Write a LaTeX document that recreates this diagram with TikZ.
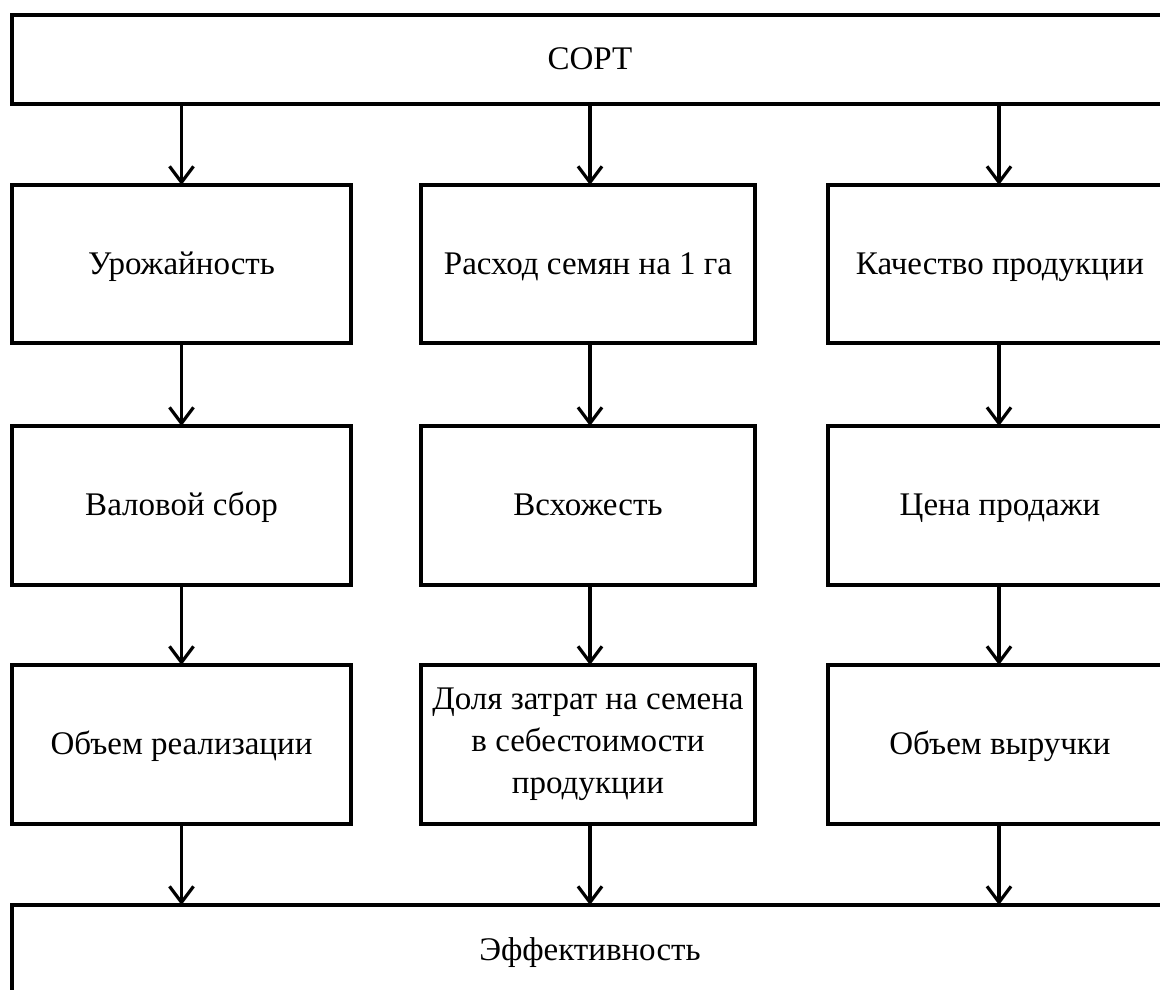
\documentclass[tikz,border=0pt]{standalone}
\usepackage{fontspec}
\setmainfont{Liberation Serif}
\usetikzlibrary{arrows.meta}
\begin{document}
\begin{tikzpicture}[x=1pt,y=-1pt,
  box/.style={draw=black, line width=4pt, rectangle, inner sep=0pt, outer sep=0pt,
    align=center, font=\fontsize{33}{42}\selectfont},
  one/.style={box, text height=25pt, text depth=5pt},
  arr/.style={line width=3.2pt, -{Straight Barb[length=16pt,width=24pt,line width=3.2pt]}}]
\useasboundingbox (0,0) rectangle (1160,990);
\clip (0,0) rectangle (1160,990);
% top
\node[one, minimum width=1156pt, minimum height=89pt] (sort) at (590,59.5) {СОРТ};
% row 2
\node[one, minimum width=339pt, minimum height=158pt] (urozh) at (181.5,264) {Урожайность};
\node[one, minimum width=334pt, minimum height=158pt] (rashod) at (588,264) {Расход семян на 1 га};
\node[one, minimum width=344pt, minimum height=158pt] (kach) at (1000,264) {Качество продукции};
% row 3
\node[one, minimum width=339pt, minimum height=159pt] (val) at (181.5,505.5) {Валовой сбор};
\node[one, minimum width=334pt, minimum height=159pt] (vsh) at (588,505.5) {Всхожесть};
\node[one, minimum width=344pt, minimum height=159pt] (cena) at (1000,505.5) {Цена продажи};
% row 4
\node[one, minimum width=339pt, minimum height=159pt] (obr) at (181.5,744.5) {Объем реализации};
\node[box, minimum width=334pt, minimum height=159pt] (dolya) at (588,744.5) {Доля затрат на семена\\в себестоимости\\продукции};
\node[one, minimum width=344pt, minimum height=159pt] (obv) at (1000,744.5) {Объем выручки};
% bottom
\node[one, minimum width=1156pt, minimum height=90pt] (eff) at (590,950) {Эффективность};
% arrows
\draw[arr] (urozh.north |- sort.south) -- (urozh.north);
\draw[arr] (590,104) -- (rashod.north -| 590,0);
\draw[arr] (999,104) -- (kach.north -| 999,0);
\draw[arr] (urozh.south) -- (val.north);
\draw[arr] (590,343) -- (vsh.north -| 590,0);
\draw[arr] (999,343) -- (cena.north -| 999,0);
\draw[arr] (val.south) -- (obr.north);
\draw[arr] (590,585) -- (dolya.north -| 590,0);
\draw[arr] (999,585) -- (obv.north -| 999,0);
\draw[arr] (obr.south) -- (eff.north -| obr.south);
\draw[arr] (590,824) -- (eff.north -| 590,0);
\draw[arr] (999,824) -- (eff.north -| 999,0);
\end{tikzpicture}
\end{document}
